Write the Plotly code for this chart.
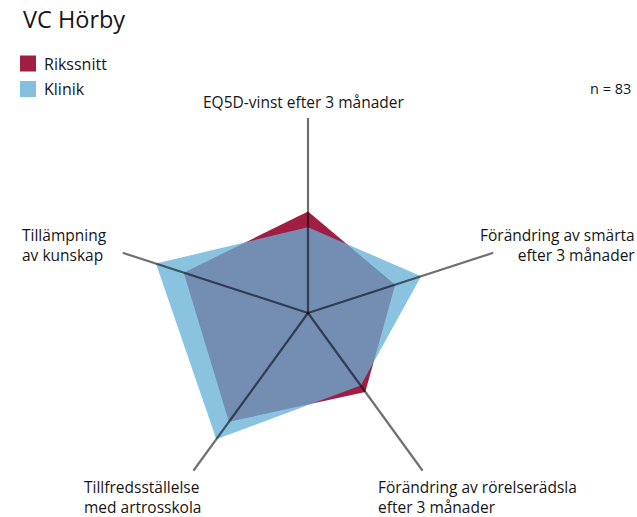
import plotly.graph_objects as go

# ---- data ----
categories = [
    "EQ5D-vinst efter 3 månader",
    "Förändring av smärta efter 3 månader",
    "Förändring av rörelserädsla efter 3 månader",
    "Tillfredsställelse med artrosskola",
    "Tillämpning av kunskap",
]
axis_labels = [
    "EQ5D-vinst efter 3 månader",
    "Förändring av smärta<br>efter 3 månader",
    "Förändring av rörelserädsla<br>efter 3 månader",
    "Tillfredsställelse<br>med artrosskola",
    "Tillämpning<br>av kunskap",
]
rikssnitt = [0.52, 0.47, 0.50, 0.69, 0.67]
klinik = [0.44, 0.61, 0.46, 0.80, 0.82]
series_names = ["Rikssnitt", "Klinik"]
title_text = "VC Hörby"
n_text = "n = 83"
radial_max = 1.0

# ---- style ----
W, H = 637, 517
FONT = "Open Sans"
TXT = "#161616"
RED = "#A01E44"
BLUE_LEG = "#85BFDE"
BLUE_FILL = "rgba(101,176,214,0.76)"
SPOKE = "rgba(0,0,0,0.56)"

def px(x):
    return x / W

def py(y):
    return 1 - y / H

fig = go.Figure()

def closed(v):
    return list(v) + [v[0]]

cats_c = closed(categories)
fig.add_trace(go.Scatterpolar(r=closed(rikssnitt), theta=cats_c, mode="lines",
                              fill="toself", fillcolor=RED, line=dict(width=0),
                              name=series_names[0], showlegend=False, hoverinfo="skip"))
fig.add_trace(go.Scatterpolar(r=closed(klinik), theta=cats_c, mode="lines",
                              fill="toself", fillcolor=BLUE_FILL, line=dict(width=0),
                              name=series_names[1], showlegend=False, hoverinfo="skip"))
for c in categories:
    fig.add_trace(go.Scatterpolar(r=[0, radial_max], theta=[c, c], mode="lines",
                                  line=dict(color=SPOKE, width=2.2),
                                  showlegend=False, hoverinfo="skip"))

# polar placement: centre (308,313), radius 195 px
cx, cy, R = 308, 313, 195
fig.update_layout(
    width=W, height=H,
    margin=dict(l=0, r=0, t=0, b=0),
    paper_bgcolor="white",
    plot_bgcolor="white",
    font=dict(family=FONT, size=16, color=TXT),
    polar=dict(
        domain=dict(x=[px(cx - R), px(cx + R)], y=[py(cy + R), py(cy - R)]),
        bgcolor="rgba(0,0,0,0)",
        radialaxis=dict(range=[0, radial_max], visible=False),
        angularaxis=dict(rotation=90, direction="clockwise", showgrid=False,
                         showline=False, showticklabels=False, ticks=""),
    ),
)

ann = []
ann.append(dict(text=title_text, x=px(21), y=py(19), xanchor="left", yanchor="middle",
                font=dict(size=23.5, family=FONT, color=TXT)))
# legend
leg_colors = [RED, BLUE_LEG]
leg_y = [63.5, 89]
shapes = []
for name, col, yy in zip(series_names, leg_colors, leg_y):
    shapes.append(dict(type="rect", xref="paper", yref="paper",
                       x0=px(20), x1=px(36), y0=py(yy - 8), y1=py(yy + 8),
                       fillcolor=col, line=dict(width=0)))
    ann.append(dict(text=name, x=px(42), y=py(yy), xanchor="left", yanchor="middle",
                    font=dict(size=16, family=FONT, color=TXT)))
ann.append(dict(text=n_text, x=px(633), y=py(88), xanchor="right", yanchor="middle",
                font=dict(size=14.5, family=FONT, color=TXT)))

# axis labels
label_pos = [
    (304, 102, "center"),
    (637, 245, "right"),
    (376, 496.5, "left"),
    (82, 496.5, "left"),
    (20, 245, "left"),
]
for lab, (x, y, anc) in zip(axis_labels, label_pos):
    ann.append(dict(text=lab, x=px(x), y=py(y), xanchor=anc, yanchor="middle", align=anc,
                    font=dict(size=15.5, family=FONT, color=TXT)))

for a in ann:
    a.update(xref="paper", yref="paper", showarrow=False)

fig.update_layout(annotations=ann, shapes=shapes)
fig.write_html(
    "out.html",
    config={"displayModeBar": False},
    post_script="document.body.style.margin='0';document.body.style.padding='0';"
                "document.body.style.overflow='hidden';",
)
